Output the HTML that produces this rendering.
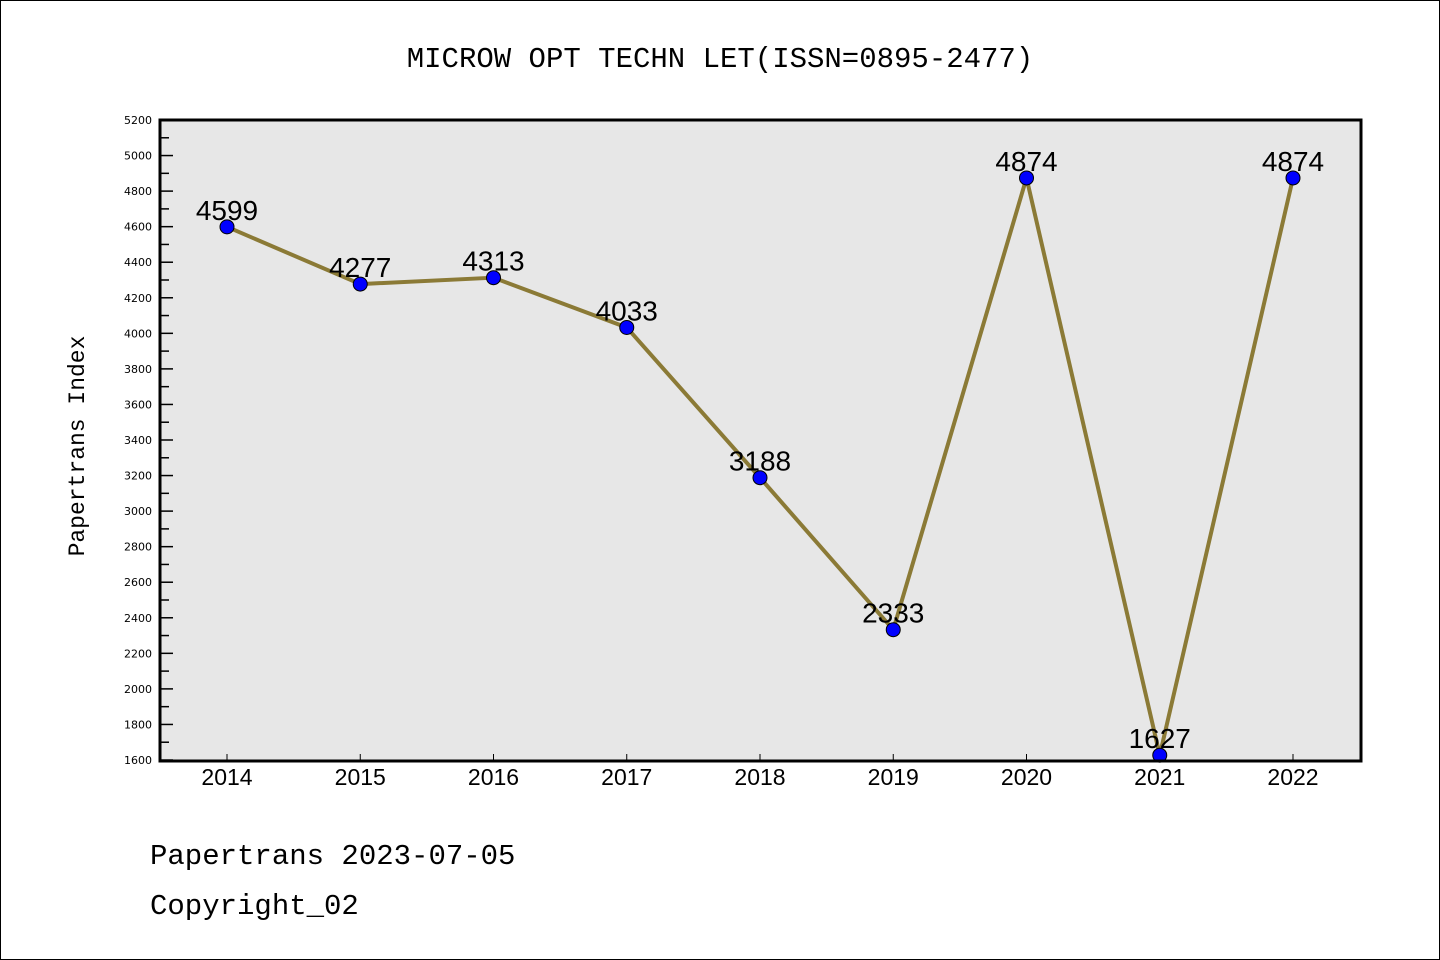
<!DOCTYPE html>
<html><head><meta charset="utf-8"><style>
html,body{margin:0;padding:0;background:#fff}
svg{display:block}
</style></head><body>
<svg id="chart" width="1440" height="960" xmlns="http://www.w3.org/2000/svg">
<rect x="0.5" y="0.5" width="1439" height="959" fill="#fff" stroke="#000" stroke-width="1"/>
<text x="720" y="67" text-anchor="middle" font-family="Liberation Mono, DejaVu Sans Mono, monospace" font-size="29" fill="#000">MICROW OPT TECHN LET(ISSN=0895-2477)</text>
<rect x="160" y="120" width="1201" height="641" fill="#e7e7e7"/>
<g id="yaxis"></g>
<g id="xaxis"></g>
<g id="series"></g>
<rect x="160" y="120" width="1201" height="641" fill="none" stroke="#000" stroke-width="3"/>
<text transform="translate(84,446) rotate(-90)" text-anchor="middle" font-family="Liberation Mono, DejaVu Sans Mono, monospace" font-size="23" fill="#000">Papertrans Index</text>
<text x="150" y="864" font-family="Liberation Mono, DejaVu Sans Mono, monospace" font-size="29" fill="#000">Papertrans 2023-07-05</text>
<text x="150" y="914" font-family="Liberation Mono, DejaVu Sans Mono, monospace" font-size="29" fill="#000">Copyright_02</text>
</svg>
<script>
const years = ["2014","2015","2016","2017","2018","2019","2020","2021","2022"];
const values = [4599,4277,4313,4033,3188,2333,4874,1627,4874];
const yTicks = [1600,1800,2000,2200,2400,2600,2800,3000,3200,3400,3600,3800,4000,4200,4400,4600,4800,5000,5200];
const NS="http://www.w3.org/2000/svg";
const yMin=1600,yMax=5200,plotTop=120,plotBot=760;
function y(v){return plotBot-(v-yMin)/(yMax-yMin)*(plotBot-plotTop);}
function x(i){return 227+i*133.25;}
function mk(tag,attrs,parent){const e=document.createElementNS(NS,tag);for(const k in attrs)e.setAttribute(k,attrs[k]);parent.appendChild(e);return e;}
const ya=document.getElementById('yaxis'),xa=document.getElementById('xaxis'),se=document.getElementById('series');
yTicks.forEach((t,i)=>{
  const l=mk('line',{x1:160,x2:173,y1:y(t),y2:y(t),stroke:'#000','stroke-width':1.5},ya);
  
  
  const tx=mk('text',{x:152,y:y(t)+4,'text-anchor':'end','font-family':'DejaVu Sans, sans-serif','font-size':11,fill:'#000'},ya);
  tx.textContent=t;
  
  
  if(i<yTicks.length-1){
    const m=mk('line',{x1:160,x2:169,y1:y(t+100),y2:y(t+100),stroke:'#000','stroke-width':1.5},ya);
    
    
  }
});
years.forEach((yr,i)=>{
  const l=mk('line',{x1:x(i),x2:x(i),y1:760,y2:754,stroke:'#000','stroke-width':1},xa);
  
  
  const tx=mk('text',{x:x(i),y:785,'text-anchor':'middle','font-family':'Liberation Sans, sans-serif','font-size':23,fill:'#000'},xa);
  tx.textContent=yr;
  
  
});
const pts=values.map((v,i)=>x(i)+','+y(v)).join(' ');
const pl=mk('polyline',{points:pts,fill:'none',stroke:'#8b7a36','stroke-width':4,'stroke-linejoin':'round'},se);


values.forEach((v,i)=>{
  const c=mk('circle',{cx:x(i),cy:y(v),r:7,fill:'#0000ff',stroke:'#000','stroke-width':1},se);
  
  
  const t=mk('text',{x:x(i),y:y(v)-7,'text-anchor':'middle','font-family':'Liberation Sans, sans-serif','font-size':28,fill:'#000'},se);
  t.textContent=v;
  
  
});
</script>
</body></html>
